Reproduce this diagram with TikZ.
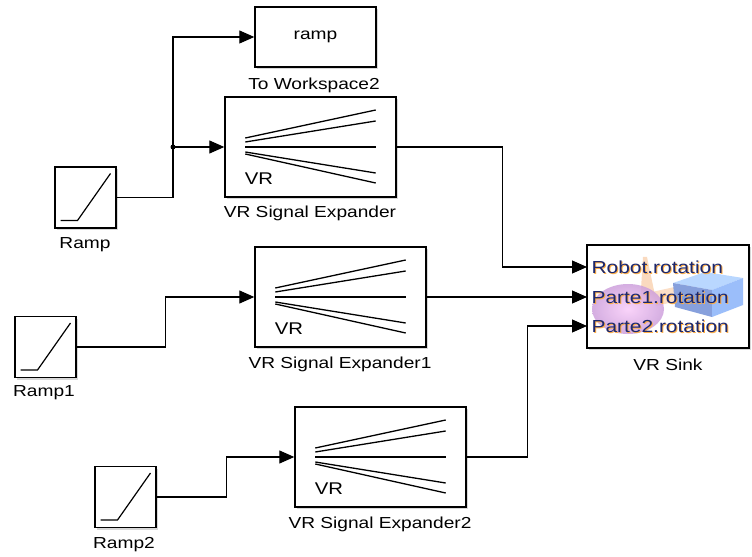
\documentclass[tikz,border=0pt]{standalone}
\usepackage{fontspec}
\setmainfont{Liberation Sans}[FakeStretch=1.2]
\usetikzlibrary{arrows.meta, calc, shadows}
\definecolor{portblue}{RGB}{28,40,110}
\definecolor{portglow}{RGB}{255,175,70}
\definecolor{sphere}{RGB}{245,170,245}
\definecolor{sphereedge}{RGB}{205,160,220}
\definecolor{peach}{RGB}{250,215,185}
\definecolor{cubetop}{RGB}{185,215,255}
\definecolor{cubefront}{RGB}{135,160,220}
\definecolor{cubeside}{RGB}{155,190,250}

\begin{document}
\begin{tikzpicture}[x=1bp, y=-1bp, line width=1.1bp]
	\tikzstyle{every node} = [font=\fontsize{16}{18}\selectfont, text=black]
	\tikzstyle{block} = [rectangle, draw=black, line width=1.4bp, fill=white, inner sep=0pt, drop shadow={shadow xshift=2bp, shadow yshift=-2bp, opacity=0.3}]
	\tikzstyle{source} = [block, minimum width=61bp, minimum height=61bp]
	\tikzstyle{expander} = [block, minimum width=171bp, minimum height=100bp]
	\tikzstyle{port} = [anchor=west, inner sep=0pt, font=\fontsize{17.5}{19}\selectfont]
	\tikzstyle{signal} = [-{Triangle[length=15bp,width=13bp]}]
	\fill[white] (0,0) rectangle (752,557);
	\useasboundingbox (0,0) rectangle (752,557);

	% sources and their names
	\node[source] (ramp) at (85.5,197.5) {};
	\node (ramp_name) at (85,245) {Ramp};
	\node[source] (ramp1) at (45.5,347) {};
	\node (ramp1_name) at (44,393) {Ramp1};
	\node[source] (ramp2) at (125.5,497) {};
	\node (ramp2_name) at (124,545) {Ramp2};

	\node[block, minimum width=121bp, minimum height=60bp] (to_ws) at (315.5,37) {ramp};
	\node (to_ws_name) at (314,85) {To Workspace2};

	\node[expander] (sig_exp) at (310.5,147) {};
	\node (sig_exp_name) at (310,213) {VR Signal Expander};
	\node[expander] (sig_exp1) at (340.5,297) {};
	\node (sig_exp1_name) at (340,364) {VR Signal Expander1};
	\node[expander] (sig_exp2) at (380.5,457) {};
	\node (sig_exp2_name) at (380,524) {VR Signal Expander2};

	\node[block, minimum width=162bp, minimum height=103bp] (vr_sink) at (668,296.5) {};
	\node (vr_sink_name) at (668,365) {VR Sink};

	% ramp icons
	\foreach \n in {ramp, ramp1, ramp2}
		\draw[line width=1.2bp] ($(\n)+(-25,23)$) -- ($(\n)+(-8,23)$) -- ($(\n)+(25,-24)$);

	% expander fans
	\foreach \n in {sig_exp, sig_exp1, sig_exp2} {
		\foreach \a/\b in {-9/-37, -5/-26, 0/0, 5/26, 7/36}
			\draw[line width=1.3bp] ($(\n.west)+(21,\a)$) -- ($(\n.east)+(-21,\b)$);
		\node[anchor=base west, inner sep=0pt, font=\fontsize{17}{19}\selectfont] (\n_vr) at ($(\n.south west)+(20,-13)$) {VR};
	}

	% scene inside the sink
	\fill[peach, opacity=0.9] (643,257) -- (647,257) -- (656,300) -- (640,305) -- cycle;
	\fill[peach, opacity=0.8] (652,292) -- (688,284) -- (690,298) -- (656,306) -- cycle;
	\shade[inner color=sphere!60!white, outer color=sphereedge, opacity=0.85] (628,309) ellipse (36 and 25);
	\fill[cubetop] (673,283) -- (705,272) -- (743,278) -- (712,290) -- cycle;
	\fill[cubefront] (673,283) -- (712,290) -- (712,317) -- (675,307) -- cycle;
	\fill[cubeside] (712,290) -- (743,278) -- (743,305) -- (712,317) -- cycle;
	\foreach \t/\y [count=\i] in {Robot.rotation/267, Parte1.rotation/297, Parte2.rotation/326} {
		\node[port, text=portglow] (port_glow\i) at (592,\y+1) {\t};
		\node[port, text=portblue] (port\i) at (591,\y) {\t};
	}
	\coordinate (robot_in) at (587,267);
	\coordinate (parte1_in) at (587,297);
	\coordinate (parte2_in) at (587,326);

	% signal lines
	\coordinate (split) at (173,147);
	\draw (ramp.east) -| (split);
	\draw[signal] (split) -- (sig_exp.west);
	\draw[signal] (split) |- (to_ws.west);
	\fill (split) circle (2.5);
	\draw[signal] (ramp1.east) -- ++(89,0) |- (sig_exp1.west);
	\draw[signal] (ramp2.east) -- ++(70,0) |- (sig_exp2.west);
	\draw[signal] (sig_exp.east) -- ++(106,0) |- (robot_in);
	\draw[signal] (sig_exp1.east) -- (parte1_in);
	\draw[signal] (sig_exp2.east) -- ++(61,0) |- (parte2_in);
\end{tikzpicture}
\end{document}
